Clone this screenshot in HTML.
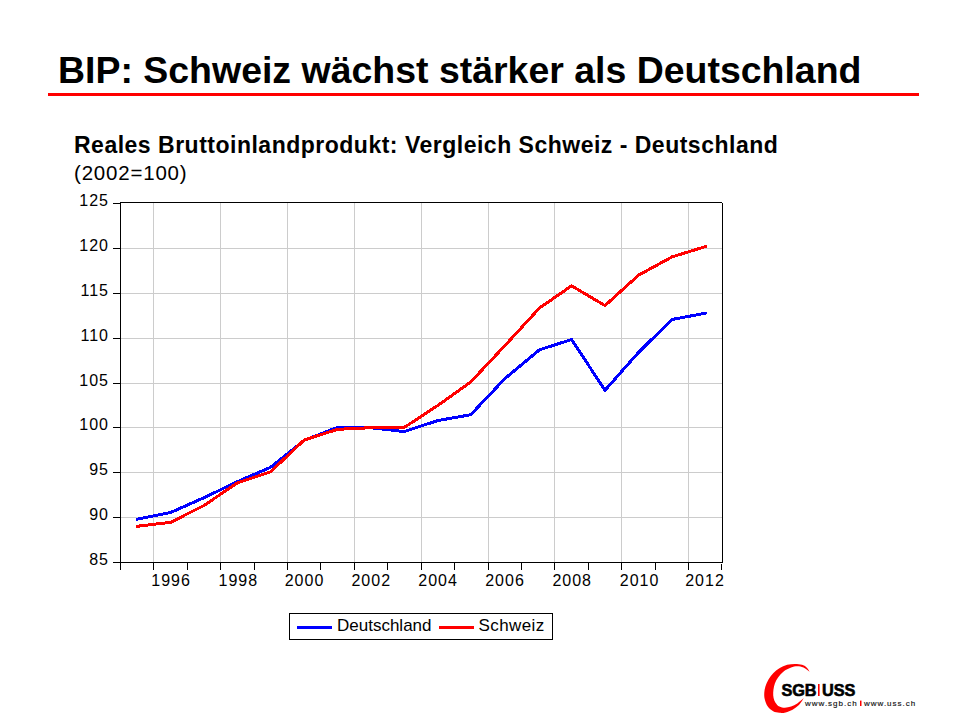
<!DOCTYPE html>
<html><head><meta charset="utf-8">
<style>
html,body{margin:0;padding:0;background:#fff;}
body{width:960px;height:720px;position:relative;overflow:hidden;font-family:"Liberation Sans",Arial,sans-serif;}
.t{position:absolute;white-space:nowrap;color:#000;}
#title{left:58px;top:48px;font-size:37.46px;font-weight:bold;line-height:44px;}
#rule{position:absolute;left:48px;top:93px;width:871px;height:3px;background:#ff0000;}
#sub{left:74px;top:131.5px;font-size:23px;font-weight:bold;letter-spacing:0.5px;line-height:26px;}
#sub2{left:74px;top:160.5px;font-size:20.5px;letter-spacing:0.8px;line-height:24px;}
svg{position:absolute;left:0;top:0;}
svg text{font-family:"Liberation Sans",Arial,sans-serif;font-size:16px;fill:#000;}
svg text.ax{letter-spacing:1px;}
svg text.lg{font-size:17px;}
svg text.lb{font-size:16.3px;font-weight:bold;letter-spacing:-0.1px;stroke:#000;stroke-width:0.6px;}
svg text.url{font-size:8px;letter-spacing:1px;fill:#111;stroke:#111;stroke-width:0.15px;}
</style></head><body>
<div class="t" id="title">BIP: Schweiz wächst stärker als Deutschland</div>
<div id="rule"></div>
<div class="t" id="sub">Reales Bruttoinlandprodukt: Vergleich Schweiz - Deutschland</div>
<div class="t" id="sub2">(2002=100)</div>
<svg width="960" height="720" viewBox="0 0 960 720">
<path d="M121 248.5H722M121 293.5H722M121 338.5H722M121 383.5H722M121 427.5H722M121 472.5H722M121 517.5H722M153.5 203V562M220.5 203V562M287.5 203V562M354.5 203V562M421.5 203V562M488.5 203V562M554.5 203V562M621.5 203V562M688.5 203V562" stroke="#cccccc" stroke-width="1" fill="none"/>
<path d="M120.5 202V570M120 202.5H722M722.5 203V563M113 562.5H723M113 203.5H120M113 248.5H120M113 293.5H120M113 338.5H120M113 383.5H120M113 427.5H120M113 472.5H120M113 517.5H120M153.5 563V570M187.5 563V570M220.5 563V570M254.5 563V570M287.5 563V570M320.5 563V570M354.5 563V570M387.5 563V570M421.5 563V570M454.5 563V570M488.5 563V570M521.5 563V570M554.5 563V570M588.5 563V570M621.5 563V570M655.5 563V570M688.5 563V570M721.5 564V570" stroke="#000" stroke-width="1" fill="none"/>
<text x="109" y="206" text-anchor="end" class="ax">125</text>
<text x="109" y="251" text-anchor="end" class="ax">120</text>
<text x="109" y="296" text-anchor="end" class="ax">115</text>
<text x="109" y="341" text-anchor="end" class="ax">110</text>
<text x="109" y="386" text-anchor="end" class="ax">105</text>
<text x="109" y="430" text-anchor="end" class="ax">100</text>
<text x="109" y="475" text-anchor="end" class="ax">95</text>
<text x="109" y="520" text-anchor="end" class="ax">90</text>
<text x="109" y="565" text-anchor="end" class="ax">85</text>
<text x="171.1" y="586" text-anchor="middle" class="ax">1996</text>
<text x="238.3" y="586" text-anchor="middle" class="ax">1998</text>
<text x="304.5" y="586" text-anchor="middle" class="ax">2000</text>
<text x="371.25" y="586" text-anchor="middle" class="ax">2002</text>
<text x="438.1" y="586" text-anchor="middle" class="ax">2004</text>
<text x="505.0" y="586" text-anchor="middle" class="ax">2006</text>
<text x="572.2" y="586" text-anchor="middle" class="ax">2008</text>
<text x="639.6" y="586" text-anchor="middle" class="ax">2010</text>
<text x="705.0" y="586" text-anchor="middle" class="ax">2012</text>
<polyline points="137,519.2 170.7,512.5 204,497.7 237.3,481.7 270.7,467.2 304.2,440.3 337.7,427.3 371,427.7 404.2,431.6 437.6,420.6 470.7,414.75 505,378.5 539.5,349.8 571.6,339.5 605,390.3 638.5,352.4 672,319.5 705.5,313.2" stroke="#0000ff" stroke-width="3" fill="none" stroke-linejoin="round" stroke-linecap="round" shape-rendering="crispEdges"/>
<polyline points="137,526.3 170.7,522.3 204,505.5 237.3,482.9 270.7,471.7 304.2,440 337.7,429.3 371,427.7 404.2,427.5 437.6,405.6 470.7,382 505,345.5 539.5,308 571.6,285.8 605,305.6 638.5,275.2 672,256.9 705.5,246.6" stroke="#ff0000" stroke-width="3" fill="none" stroke-linejoin="round" stroke-linecap="round" shape-rendering="crispEdges"/>
<rect x="289.5" y="613.5" width="263" height="26" fill="none" stroke="#000" stroke-width="1"/>
<path d="M297 627.5H332" stroke="#0000ff" stroke-width="3"/>
<path d="M439 627.5H474" stroke="#ff0000" stroke-width="3"/>
<text x="337" y="631" class="lg">Deutschland</text>
<text x="478.5" y="631" class="lg" style="letter-spacing:0.4px">Schweiz</text>
<path d="M809.7 671.7C809.2 671.0 807.9 668.5 806.6 667.4C805.3 666.2 803.9 665.4 802.0 664.8C800.1 664.2 797.5 663.9 795.0 663.9C792.5 663.9 789.8 664.1 787.2 664.8C784.6 665.5 781.7 666.8 779.4 668.2C777.1 669.6 775.0 671.3 773.2 673.2C771.4 675.1 769.8 677.2 768.5 679.4C767.2 681.6 766.1 684.2 765.4 686.4C764.7 688.6 764.4 690.5 764.3 692.6C764.2 694.7 764.1 696.6 764.7 698.9C765.3 701.2 766.4 704.5 767.8 706.6C769.2 708.7 771.3 710.3 773.2 711.3C775.1 712.3 777.3 712.6 779.4 712.8C781.5 713.0 783.4 712.9 785.6 712.4C787.8 711.9 790.4 710.9 792.6 709.7C794.8 708.5 797.0 707.0 798.9 705.1C800.8 703.2 803.1 699.3 803.9 698.1C802.8 699.0 799.4 702.1 797.3 703.5C795.2 704.9 793.2 705.9 791.1 706.6C789.0 707.3 786.9 707.8 784.9 707.8C782.9 707.8 781.0 707.5 779.4 706.6C777.8 705.8 776.5 704.1 775.5 702.7C774.5 701.3 774.0 699.8 773.6 698.1C773.2 696.4 773.1 694.6 773.2 692.6C773.3 690.6 773.5 688.5 774.0 686.4C774.5 684.3 775.3 682.1 776.3 680.2C777.3 678.3 778.7 676.5 780.2 674.8C781.8 673.1 783.8 671.3 785.6 670.1C787.4 668.9 789.2 668.0 791.1 667.4C793.0 666.8 795.2 666.2 797.3 666.2C799.4 666.2 801.4 666.5 803.5 667.4C805.6 668.3 808.7 671.0 809.7 671.7Z" fill="#f00"/>
<text x="781.5" y="695.8" class="lb">SGB</text>
<rect x="818" y="684" width="1.6" height="12" fill="#f00"/>
<text x="822" y="695.8" class="lb">USS</text>
<text x="805" y="706" class="url">www.sgb.ch</text>
<rect x="860" y="700.6" width="1.5" height="5.4" fill="#f00"/>
<text x="864" y="706" class="url">www.uss.ch</text>
</svg>
</body></html>
